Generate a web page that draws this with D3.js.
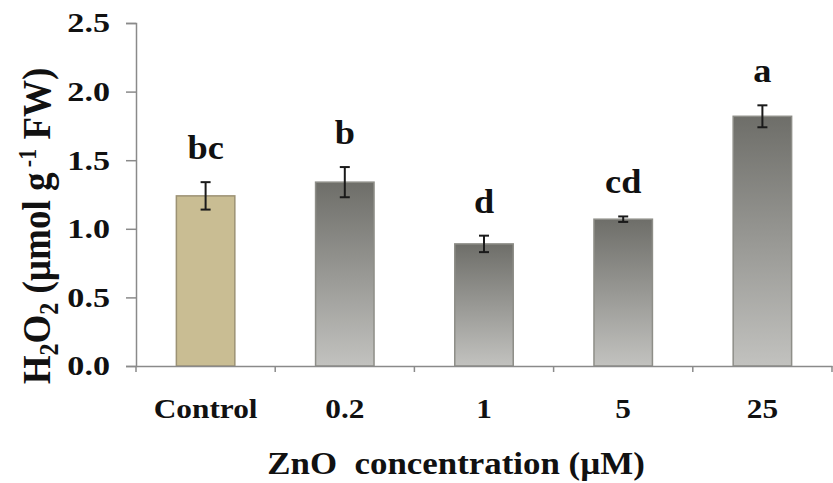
<!DOCTYPE html>
<html>
<head>
<meta charset="utf-8">
<script src="https://cdn.jsdelivr.net/npm/d3@7"></script>
<style>
  html, body { margin: 0; padding: 0; background: #fff; }
  svg { display: block; }
  text { font-family: "Liberation Serif", "Times New Roman", serif; font-weight: bold; fill: #111; white-space: pre; }
</style>
</head>
<body>
<svg id="chart" width="833" height="483"></svg>
<script>
// H2O2 content by ZnO treatment
const categories = ["Control", "0.2", "1", "5", "25"];
const means      = [1.24, 1.34, 0.89, 1.07, 1.82];
const errors     = [0.10, 0.11, 0.06, 0.02, 0.08];
const groups     = ["bc", "b", "d", "cd", "a"];
const yTicks     = [0, 0.5, 1.0, 1.5, 2.0, 2.5];

const svg = d3.select("#chart");
const margin = { left: 136, right: 1, top: 23, bottom: 117 };
const W = 833, H = 483;

const x = d3.scaleBand()
  .domain(categories)
  .range([margin.left, W - margin.right])
  .paddingInner(0.58)
  .paddingOuter(0.29);

const y = d3.scaleLinear()
  .domain([0, 2.5])
  .range([H - margin.bottom, margin.top]);

// bar gradient
const defs = svg.append("defs");
const gGrey = defs.append("linearGradient").attr("id", "greyFill")
  .attr("x1", 0).attr("y1", 0).attr("x2", 0).attr("y2", 1);
gGrey.append("stop").attr("offset", "0%").attr("stop-color", "#6e6e69");
gGrey.append("stop").attr("offset", "100%").attr("stop-color", "#c2c2bf");

// bars
svg.append("g").selectAll("rect")
  .data(categories)
  .join("rect")
  .attr("x", d => x(d))
  .attr("width", x.bandwidth())
  .attr("y", (d, i) => y(means[i]))
  .attr("height", (d, i) => y(0) - y(means[i]))
  .attr("fill", (d, i) => i === 0 ? "#c9bd93" : "url(#greyFill)")
  .attr("stroke", (d, i) => i === 0 ? "#9c9274" : "#8e8e88")
  .attr("stroke-width", 1.5);

// error bars
const eb = svg.append("g").attr("stroke", "#1a1a1a").attr("stroke-width", 2);
categories.forEach((c, i) => {
  const cx = x(c) + x.bandwidth() / 2;
  const top = y(means[i] + errors[i]), bot = y(means[i] - errors[i]);
  eb.append("line").attr("x1", cx).attr("x2", cx).attr("y1", top).attr("y2", bot);
  eb.append("line").attr("x1", cx - 5).attr("x2", cx + 5).attr("y1", top).attr("y2", top);
  eb.append("line").attr("x1", cx - 5).attr("x2", cx + 5).attr("y1", bot).attr("y2", bot);
});

// significance letters
svg.append("g").selectAll("text")
  .data(categories)
  .join("text")
  .attr("text-anchor", "middle")
  .attr("font-size", 33)
  .attr("transform", (d, i) => `translate(${x(d) + x.bandwidth() / 2},${y(means[i] + errors[i]) - 23}) scale(1.1,1)`)
  .text((d, i) => groups[i]);

// y axis
const yAxis = svg.append("g")
  .attr("transform", `translate(${margin.left},0)`)
  .call(d3.axisLeft(y).tickValues(yTicks).tickFormat(d3.format(".1f")).tickSize(10).tickPadding(0));
yAxis.selectAll("path, line").attr("stroke", "#8a8a8a").attr("stroke-width", 1.5);
yAxis.selectAll("text")
  .attr("font-size", 28)
  .attr("font-family", "Liberation Serif")
  .attr("font-weight", "bold")
  .attr("fill", "#111")
  .attr("x", null)
  .attr("transform", "translate(-26,0) scale(1.22,1)");

// x axis
const xAxis = svg.append("g")
  .attr("transform", `translate(0,${y(0)})`)
  .call(d3.axisBottom(x).tickSize(0).tickPadding(0));
xAxis.select("path").attr("stroke", "#8a8a8a").attr("stroke-width", 1.5);
xAxis.selectAll("text")
  .attr("font-size", 28)
  .attr("font-family", "Liberation Serif")
  .attr("font-weight", "bold")
  .attr("fill", "#111")
  .attr("y", null).attr("dy", null)
  .attr("transform", `translate(0,52) scale(1.12,1)`);

// boundary ticks between categories
const bounds = categories.map(c => x(c) - x.step() * x.paddingInner() / 2);
bounds.push(W - margin.right);
bounds[0] = margin.left;
svg.append("g").selectAll("line")
  .data(bounds)
  .join("line")
  .attr("x1", d => d).attr("x2", d => d)
  .attr("y1", y(0)).attr("y2", y(0) + 6)
  .attr("stroke", "#8a8a8a").attr("stroke-width", 1.5);

// axis titles
svg.append("text")
  .attr("text-anchor", "middle")
  .attr("font-size", 32)
  .attr("transform", `translate(456,474) scale(1.09,1)`)
  .text("ZnO  concentration (µM)");

const yt = svg.append("text")
  .attr("text-anchor", "middle")
  .attr("font-size", 37)
  .attr("transform", `translate(50,226) scale(1.1,1) rotate(-90)`);
yt.append("tspan").text("H");
yt.append("tspan").attr("font-size", 24).attr("dy", 7).text("2");
yt.append("tspan").attr("dy", -7).text("O");
yt.append("tspan").attr("font-size", 24).attr("dy", 7).text("2");
yt.append("tspan").attr("dy", -7).text(" (µmol g");
yt.append("tspan").attr("font-size", 22).attr("dy", -13).text(" -1");
yt.append("tspan").attr("dy", 13).text(" FW)");
</script>
</body>
</html>
